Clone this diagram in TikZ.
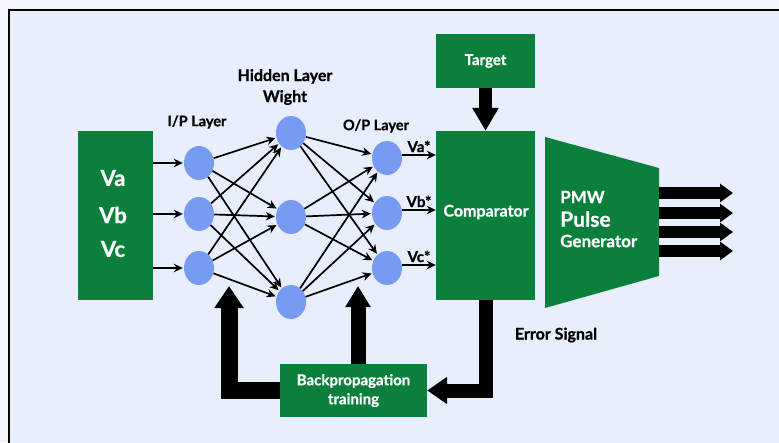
\documentclass[tikz,border=0pt]{standalone}
\usepackage{fontspec}
\setmainfont{Lato}[BoldFeatures={FakeBold=0.8}]
\usetikzlibrary{arrows.meta,shapes.geometric}
\definecolor{grn}{RGB}{10,128,60}
\definecolor{nodeblue}{RGB}{118,155,240}
\definecolor{bgblue}{RGB}{232,238,251}
\definecolor{outbg}{RGB}{242,245,252}
\newcommand{\fs}[1]{\bfseries\fontsize{#1}{#1}\selectfont}
\begin{document}
\begin{tikzpicture}[x=1pt,y=-1pt,
  gbox/.style={fill=grn,draw=none,text=white,font=\fs{15},inner sep=0,align=center},
  wtxt/.style={text=white,inner sep=0,align=center},
  neuron/.style={ellipse,fill=nodeblue,draw=none,minimum width=30,minimum height=34,inner sep=0},
  lbl/.style={font=\fs{15},text=black,align=center,inner sep=0},
  link/.style={-{Stealth[length=9pt,width=8.5pt]},line width=1.7pt,shorten >=1pt},
  fat/.style={line width=17pt,-{Triangle[length=22pt,width=28pt]}},
  fatb/.style={line width=13pt,-{Triangle[length=23pt,width=25pt]}},
  fatc/.style={line width=14pt,-{Triangle[length=20pt,width=26pt]}},
  fatd/.style={line width=12pt,-{Triangle[length=13pt,width=18pt]}},
]
\useasboundingbox (0,0) rectangle (779,442);
\fill[outbg] (0,0) rectangle (779,442);
\draw[fill=bgblue,line width=1.5pt] (9,10) rectangle (800,470);

% boxes
\node[gbox,minimum width=75,minimum height=169] (inbox) at (115.5,215.5) {};
\node[wtxt,font=\fs{22}] (va) at (113,178) {Va};
\node[wtxt,font=\fs{22}] (vb) at (113,215) {Vb};
\node[wtxt,font=\fs{22}] (vc) at (113,249) {Vc};

\node[gbox,minimum width=99,minimum height=169] (comp) at (485.5,215.5) {};
\node[wtxt,font=\fs{16}] (comptxt) at (486,212) {Comparator};
\node[gbox,minimum width=99,minimum height=54] (tgt) at (485.5,61) {Target};
\node[gbox,minimum width=147,minimum height=53] (bp) at (353.5,390.5) {Backpropagation\\[4pt]training};

% PMW trapezoid
\coordinate (p1) at (545,137);
\coordinate (p2) at (659,168);
\coordinate (p3) at (659,276);
\coordinate (p4) at (545,308);
\fill[grn] (p1) -- (p2) -- (p3) -- (p4) -- cycle;
\node[wtxt,anchor=west,font=\fs{17}] (pmw) at (560,197) {PMW};
\node[wtxt,anchor=west,font=\fs{21}] (pulse) at (560,219) {Pulse};
\node[wtxt,anchor=west,font=\fs{17}] (gen) at (560,241) {Generator};

% neurons
\node[neuron] (i1) at (199,163) {};
\node[neuron] (i2) at (199,214) {};
\node[neuron] (i3) at (199,268) {};
\node[neuron] (h1) at (291,133) {};
\node[neuron] (h2) at (291,217) {};
\node[neuron] (h3) at (291,302) {};
\node[neuron] (o1) at (387,158) {};
\node[neuron] (o2) at (387,213) {};
\node[neuron] (o3) at (387,268) {};

% labels
\node[lbl,font=\fs{14.5}] (iplbl) at (197,122) {I/P Layer};
\node[lbl,font=\fs{16}] (hidlbl) at (285,87) {Hidden Layer\\[5pt]Wight};
\node[lbl,font=\fs{14.5}] (oplbl) at (376,126) {O/P Layer};
\node[lbl,font=\fs{16}] (errlbl) at (556,335) {Error Signal};

% input arrows
\foreach \n in {i1,i2,i3}{
  \draw[link] (inbox.east |- \n) -- (\n.west);
}
% fully connected
\foreach \a in {i1,i2,i3}{
  \foreach \b in {h1,h2,h3}{
    \draw[link] (\a) -- (\b);
  }
}
\foreach \a in {h1,h2,h3}{
  \foreach \b in {o1,o2,o3}{
    \draw[link] (\a) -- (\b);
  }
}
% output arrows
\foreach \n/\t in {o1/Va*,o2/Vb*,o3/Vc*}{
  \draw[link,shorten >=0pt] ([yshift=3pt]\n.east) -- ([yshift=3pt]\n.east -| comp.west)
    node[midway,above=2pt,font=\fs{15},text=black,inner sep=0] {\t};
}

% thick arrows
\draw[fatb] (tgt.south) -- (comp.north);
\draw[fatc] (comp.south) |- (bp.east);
\coordinate (lt) at (229,286);
\coordinate (rt) at (358,286);
\draw[fat] (bp.west) -| (lt);
\draw[fat,line width=15pt,-{Triangle[length=21pt,width=24pt]}] ([xshift=4.5pt]bp.north) -- (rt);

\foreach \y [count=\k] in {193,213,232,251}{
  \coordinate (os\k) at (659,\y);
  \coordinate (oe\k) at (733,\y);
  \draw[fatd] (os\k) -- (oe\k);
}
\end{tikzpicture}
\end{document}
